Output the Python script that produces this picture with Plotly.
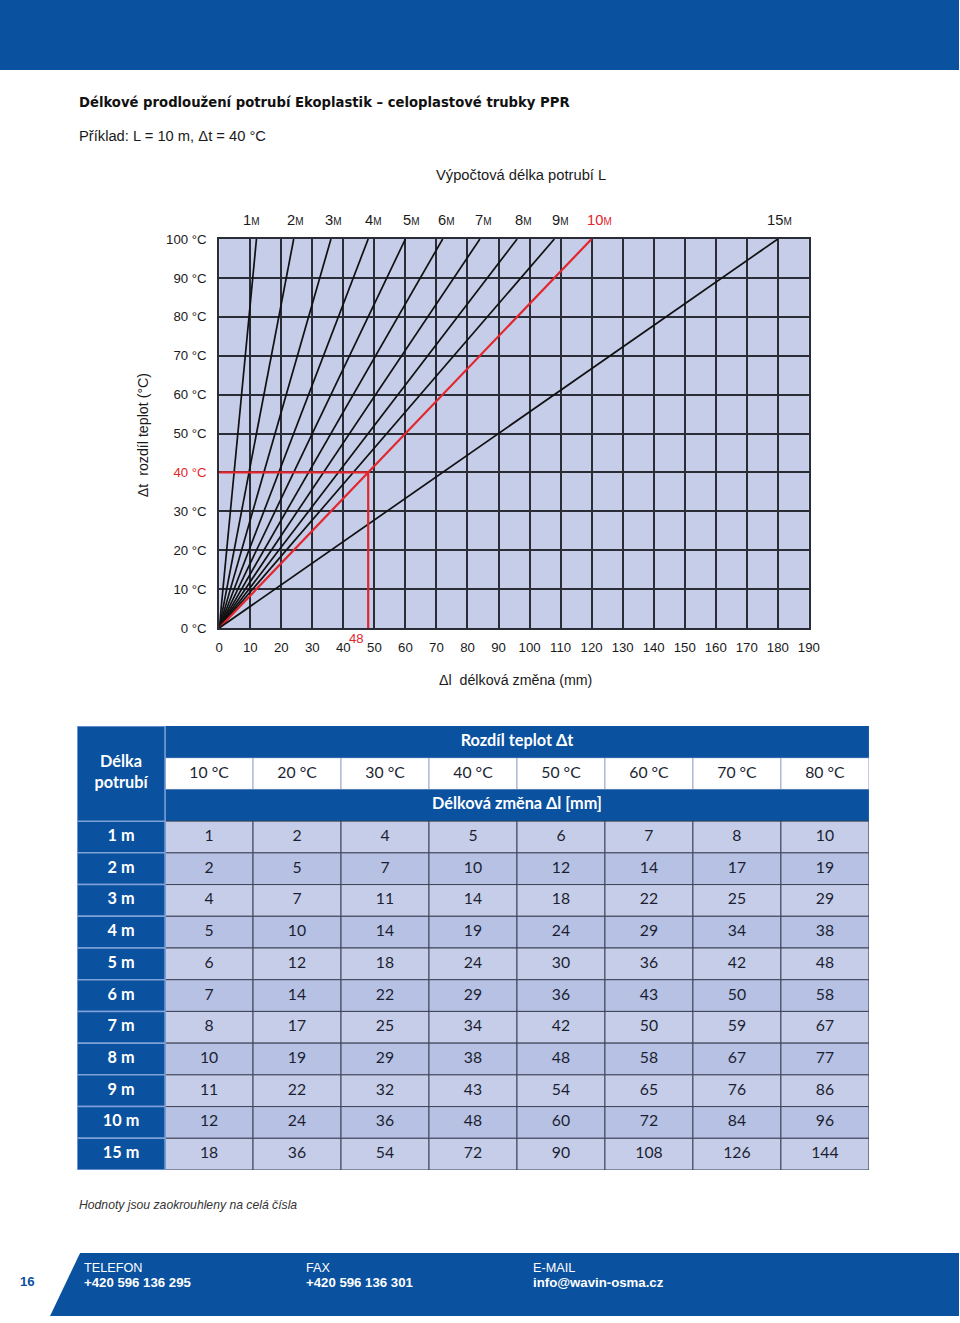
import plotly.graph_objects as go

# =============================================================================
# DATA
# =============================================================================

pipe_lengths = ["1", "2", "3", "4", "5", "6", "7", "8", "9", "10", "15"]
# délková změna (mm) při Δt = 100 °C, čteno z grafu
dl_at_100 = [12, 24, 36, 48, 60, 72, 84, 96, 108, 120, 180]
temp_span = [0, 100]

example_length = "10"
example_dt = 40
example_dl = 48

x_ticks = [0, 10, 20, 30, 40, 50, 60, 70, 80, 90, 100, 110, 120, 130, 140, 150, 160, 170, 180, 190]
y_ticks = [0, 10, 20, 30, 40, 50, 60, 70, 80, 90, 100]

table_temps = ["10 °C", "20 °C", "30 °C", "40 °C", "50 °C", "60 °C", "70 °C", "80 °C"]
table_rows = ["1 m", "2 m", "3 m", "4 m", "5 m", "6 m", "7 m", "8 m", "9 m", "10 m", "15 m"]
table_values = [
    [1, 2, 4, 5, 6, 7, 8, 10],
    [2, 5, 7, 10, 12, 14, 17, 19],
    [4, 7, 11, 14, 18, 22, 25, 29],
    [5, 10, 14, 19, 24, 29, 34, 38],
    [6, 12, 18, 24, 30, 36, 42, 48],
    [7, 14, 22, 29, 36, 43, 50, 58],
    [8, 17, 25, 34, 42, 50, 59, 67],
    [10, 19, 29, 38, 48, 58, 67, 77],
    [11, 22, 32, 43, 54, 65, 76, 86],
    [12, 24, 36, 48, 60, 72, 84, 96],
    [18, 36, 54, 72, 90, 108, 126, 144],
]

# =============================================================================
# CONFIG VISUAL
# =============================================================================

W, H = 960, 1323
BLUE = "#0a51a0"
LAVENDER = "#c6cde8"
LAVENDER_DARK = "#b6c1e3"
RED = "#e3262d"
DARK = "#2a2c36"
TEXT = "#1a1a1a"
FONT = "Liberation Sans, Arial, sans-serif"
TFONT = "Lato, Open Sans, sans-serif"
FS = 1.016  # korekce velikosti písma

LABEL_SHIFT = [-5, 2, 3, 5, 6, 4, 4, 6, 6, 8, 2]


# pozice stránky (px) -> souřadnice paper, s korekcí snímku
def px(x):
    return (x - 4) / 944


def py(y):
    return 1 - (y - 7) / 1308


def fs(s):
    return round(s * FS, 2)


fig = go.Figure()

# =============================================================================
# GRAF
# =============================================================================

for L, top in zip(pipe_lengths, dl_at_100):
    is_ex = L == example_length
    fig.add_trace(go.Scatter(
        x=[0, top], y=temp_span, mode="lines",
        line=dict(color=RED if is_ex else "#111111", width=2.2 if is_ex else 1.7),
        hoverinfo="skip", showlegend=False, xaxis="x", yaxis="y",
    ))

fig.add_trace(go.Scatter(
    x=[0, example_dl, example_dl], y=[example_dt, example_dt, 0], mode="lines",
    line=dict(color=RED, width=2.2), hoverinfo="skip", showlegend=False,
    xaxis="x", yaxis="y",
))

y_text = []
for t in y_ticks:
    s = f"{t} °C"
    if t == example_dt:
        s = f"<span style='color:{RED}'>{s}</span>"
    y_text.append(s)

# =============================================================================
# TABULKA
# =============================================================================

shapes = []


def cell(c0, r0, c1, r1, fill, line_color, line_width):
    shapes.append(dict(
        type="rect", xref="x2", yref="y2", x0=c0, x1=c1, y0=r0, y1=r1,
        fillcolor=fill, line=dict(color=line_color, width=line_width), layer="below",
    ))


n_cols = len(table_temps) + 1
n_head = 3
mid = (1 + n_cols) / 2  # střed sloučené hlavičky

# hlavička
for j in range(len(table_temps)):
    cell(j + 1, 1, j + 2, 2, "white", "#9aa9c9", 1)
cell(1, 0, n_cols, 1, BLUE, BLUE, 0)
cell(1, 2, n_cols, 3, BLUE, BLUE, 0)

# data
for i, row in enumerate(table_values):
    fill = LAVENDER_DARK if i % 2 == 1 else LAVENDER
    for j in range(len(row)):
        cell(j + 1, n_head + i, j + 2, n_head + i + 1, fill, "#3d4357", 1)
for i in range(len(table_rows)):
    cell(0, n_head + i, 1, n_head + i + 1, BLUE, "#7fa1d8", 1.5)
cell(0, 0, 1, n_head, BLUE, "#7fa1d8", 1.5)

# texty tabulky
wx, wy = [0.5, mid, mid], [1.5, 0.5, 2.5]
wt = ["<b>Délka<br>potrubí</b>", "<b>Rozdíl teplot Δt</b>", "<b>Délková změna Δl [mm]</b>"]
for i, name in enumerate(table_rows):
    wx.append(0.5)
    wy.append(n_head + i + 0.5)
    wt.append(f"<b>{name}</b>")

dx, dy, dt = [], [], []
for j, t in enumerate(table_temps):
    dx.append(j + 1.5)
    dy.append(1.5)
    dt.append(t)
for i, row in enumerate(table_values):
    for j, v in enumerate(row):
        dx.append(j + 1.5)
        dy.append(n_head + i + 0.5)
        dt.append(str(v))

fig.add_trace(go.Scatter(
    x=wx, y=wy, text=wt, mode="text", textposition="middle center",
    textfont=dict(family=TFONT, size=fs(16), color="white"),
    hoverinfo="skip", showlegend=False, xaxis="x2", yaxis="y2",
))
fig.add_trace(go.Scatter(
    x=dx, y=dy, text=dt, mode="text", textposition="middle center",
    textfont=dict(family=TFONT, size=fs(15.5), color="#1c1f33"),
    hoverinfo="skip", showlegend=False, xaxis="x2", yaxis="y2",
))

# =============================================================================
# STRÁNKA (pásy)
# =============================================================================

shapes.append(dict(type="rect", xref="paper", yref="paper", x0=px(0), x1=px(958), y0=py(70), y1=py(0),
                   fillcolor=BLUE, line=dict(width=0), layer="below"))
shapes.append(dict(
    type="path", xref="paper", yref="paper",
    path=f"M {px(80)},{py(1253)} L {px(958)},{py(1253)} L {px(958)},{py(1316)} L {px(50)},{py(1316)} Z",
    fillcolor=BLUE, line=dict(width=0), layer="below",
))

# =============================================================================
# POPISKY
# =============================================================================

ann = []


def text(x, y, s, size=14, color=TEXT, xanchor="left", family=FONT, **kw):
    ann.append(dict(
        xref="paper", yref="paper", x=px(x), y=py(y), text=s, showarrow=False,
        xanchor=xanchor, yanchor="middle", font=dict(family=family, size=fs(size), color=color), **kw
    ))


text(77, 102, "<b>Délkové prodloužení potrubí Ekoplastik – celoplastové trubky PPR</b>",
     size=13, color="#111", family="DejaVu Sans, sans-serif")
text(77, 136, "Příklad: L = 10 m, Δt = 40 °C", size=14.5)
text(520, 175, "Výpočtová délka potrubí L", size=14.5, xanchor="center")
text(143, 435, "Δt  rozdíl teplot (°C)", size=14, xanchor="center", textangle=-90)
text(515, 680, "Δl  délková změna (mm)", size=14, xanchor="center")
text(77, 1205, "<i>Hodnoty jsou zaokrouhleny na celá čísla</i>", size=12, color="#333")

for L, top, sh in zip(pipe_lengths, dl_at_100, LABEL_SHIFT):
    ann.append(dict(
        xref="x", yref="paper", x=top, y=py(220), xshift=sh, showarrow=False,
        text=f"{L}<span style='font-size:10px'>M</span>", xanchor="center", yanchor="middle",
        font=dict(family=FONT, size=fs(14.5), color=RED if L == example_length else TEXT),
    ))

ann.append(dict(
    xref="x", yref="paper", x=example_dl, y=py(638), xshift=-12, showarrow=False,
    text=str(example_dl), xanchor="center", yanchor="middle",
    font=dict(family=FONT, size=fs(13), color=RED),
))

# patička
text(27, 1281, "<b>16</b>", size=13, color=BLUE, xanchor="center")
for x0, label, value in [(82, "TELEFON", "+420 596 136 295"),
                         (304, "FAX", "+420 596 136 301"),
                         (530, "E-MAIL", "info@wavin-osma.cz")]:
    text(x0, 1268, label, size=12.5, color="white")
    text(x0, 1282, f"<b>{value}</b>", size=13, color="white")

# =============================================================================
# LAYOUT
# =============================================================================

fig.update_layout(
    width=W, height=H,
    margin=dict(l=0, r=0, t=0, b=0),
    paper_bgcolor="white",
    plot_bgcolor=LAVENDER,
    showlegend=False,
    shapes=shapes,
    annotations=ann,
    xaxis=dict(
        domain=[px(219), px(808)], range=[0, 190], anchor="y",
        tickvals=x_ticks, showgrid=True, gridcolor=DARK, gridwidth=1.8,
        showline=True, linecolor=DARK, linewidth=2, mirror=True, zeroline=False,
        ticks="outside", ticklen=6, tickcolor="rgba(0,0,0,0)",
        tickfont=dict(family=FONT, size=fs(13), color=TEXT), fixedrange=True,
    ),
    yaxis=dict(
        domain=[py(628), py(239)], range=[0, 100], anchor="x",
        tickvals=y_ticks, ticktext=y_text, showgrid=True, gridcolor=DARK, gridwidth=1.8,
        showline=True, linecolor=DARK, linewidth=2, mirror=True, zeroline=False,
        ticks="outside", ticklen=8, tickcolor="rgba(0,0,0,0)",
        tickfont=dict(family=FONT, size=fs(13), color=TEXT), fixedrange=True,
    ),
    xaxis2=dict(domain=[px(77), px(868)], range=[0, n_cols], anchor="y2", visible=False, fixedrange=True),
    yaxis2=dict(domain=[py(1170), py(726)], range=[n_head + len(table_rows), 0], anchor="x2",
                visible=False, fixedrange=True),
)

fig.write_html(
    "out.html",
    config={"displayModeBar": False},
    post_script=(
        "document.documentElement.style.margin='0';"
        "document.documentElement.style.overflow='hidden';"
        "document.body.style.margin='0';document.body.style.overflow='hidden';"
        "var g=document.getElementsByClassName('plotly-graph-div')[0];"
        "g.style.position='absolute';g.style.left='0px';g.style.top='0px';"
    ),
)
